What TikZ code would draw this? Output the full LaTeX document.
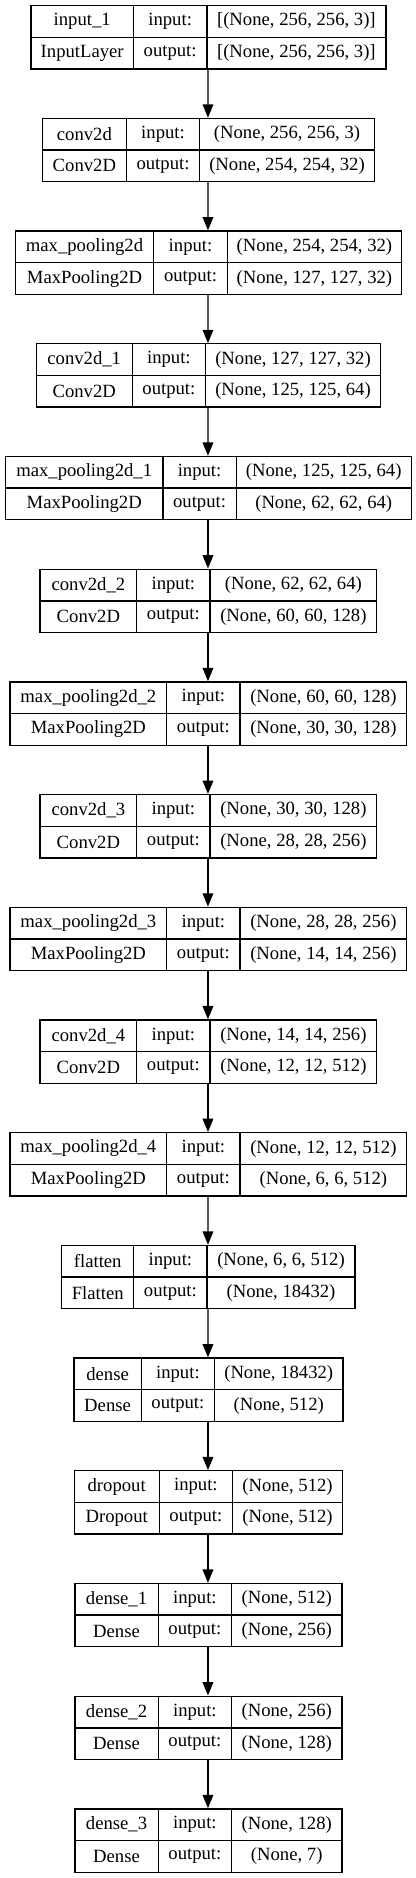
\documentclass[tikz,border=0pt]{standalone}
\usepackage{fontspec}
\setmainfont{Liberation Serif}
\usetikzlibrary{arrows.meta}
\tikzset{
  cell/.style={draw=black, line width=1pt, inner sep=0pt, minimum height=23.75pt,
    font=\fontsize{14pt}{16pt}\selectfont, anchor=north west},
  boxframe/.style={inner sep=0pt, minimum height=47.5pt, anchor=north west},
  arr/.style={draw=black, line width=1pt, -{Triangle[length=10pt,width=8pt]}}
}
\newcommand{\lylayer}[8]{% i, w1, w2, w3, name, class, in, out
  \pgfmathsetmacro{\lyT}{5+112.7*#1}
  \pgfmathsetmacro{\lyL}{207.7-(#2+#3+#4)/2}
  \pgfmathsetmacro{\lyA}{\lyL+#2}
  \pgfmathsetmacro{\lyB}{\lyA+#3}
  \pgfmathsetmacro{\lyM}{\lyT+31.67}
  \node[boxframe, minimum width={(#2+#3+#4)*0.75pt}] (L#1) at (\lyL,\lyT) {};
  \node[cell, minimum width={(#2)*0.75pt}] (L#1n) at (\lyL,\lyT) {#5};
  \node[cell, minimum width={(#2)*0.75pt}] (L#1c) at (\lyL,\lyM) {#6};
  \node[cell, minimum width={(#3)*0.75pt}] (L#1i) at (\lyA,\lyT) {input:};
  \node[cell, minimum width={(#3)*0.75pt}] (L#1o) at (\lyA,\lyM) {output:};
  \node[cell, minimum width={(#4)*0.75pt}] (L#1s) at (\lyB,\lyT) {#7};
  \node[cell, minimum width={(#4)*0.75pt}] (L#1t) at (\lyB,\lyM) {#8};
}
\begin{document}
\begin{tikzpicture}[x=0.75pt, y=-0.75pt]
\fill[white] (0,0) rectangle (416,1878);
\useasboundingbox (0,0) rectangle (416,1878);
\lylayer{0}{102.6}{73.4}{179}{input\_1}{InputLayer}{[(None, 256, 256, 3)]}{[(None, 256, 256, 3)]}
\lylayer{1}{84.3}{73}{175}{conv2d}{Conv2D}{(None, 256, 256, 3)}{(None, 254, 254, 32)}
\lylayer{2}{138.3}{73.7}{174}{max\_pooling2d}{MaxPooling2D}{(None, 254, 254, 32)}{(None, 127, 127, 32)}
\lylayer{3}{96}{73.3}{175}{conv2d\_1}{Conv2D}{(None, 127, 127, 32)}{(None, 125, 125, 64)}
\lylayer{4}{157.4}{73.3}{175}{max\_pooling2d\_1}{MaxPooling2D}{(None, 125, 125, 64)}{(None, 62, 62, 64)}
\lylayer{5}{96.7}{73.3}{166.7}{conv2d\_2}{Conv2D}{(None, 62, 62, 64)}{(None, 60, 60, 128)}
\lylayer{6}{156.7}{73.3}{166.7}{max\_pooling2d\_2}{MaxPooling2D}{(None, 60, 60, 128)}{(None, 30, 30, 128)}
\lylayer{7}{96.7}{73.3}{166.7}{conv2d\_3}{Conv2D}{(None, 30, 30, 128)}{(None, 28, 28, 256)}
\lylayer{8}{156.7}{73.3}{166.7}{max\_pooling2d\_3}{MaxPooling2D}{(None, 28, 28, 256)}{(None, 14, 14, 256)}
\lylayer{9}{96.7}{73.3}{166.7}{conv2d\_4}{Conv2D}{(None, 14, 14, 256)}{(None, 12, 12, 512)}
\lylayer{10}{156.7}{73.3}{166.7}{max\_pooling2d\_4}{MaxPooling2D}{(None, 12, 12, 512)}{(None, 6, 6, 512)}
\lylayer{11}{72}{73.3}{148}{flatten}{Flatten}{(None, 6, 6, 512)}{(None, 18432)}
\lylayer{12}{67.4}{73.3}{128.3}{dense}{Dense}{(None, 18432)}{(None, 512)}
\lylayer{13}{85}{73.4}{110}{dropout}{Dropout}{(None, 512)}{(None, 512)}
\lylayer{14}{83.3}{73.4}{110.3}{dense\_1}{Dense}{(None, 512)}{(None, 256)}
\lylayer{15}{83.3}{73.4}{110.3}{dense\_2}{Dense}{(None, 256)}{(None, 128)}
\lylayer{16}{83.3}{73.4}{110.3}{dense\_3}{Dense}{(None, 128)}{(None, 7)}
\foreach \a [evaluate=\a as \b using int(\a+1)] in {0,...,15}
  \draw[arr] (L\a.south) -- (L\b.north);
\end{tikzpicture}
\end{document}
